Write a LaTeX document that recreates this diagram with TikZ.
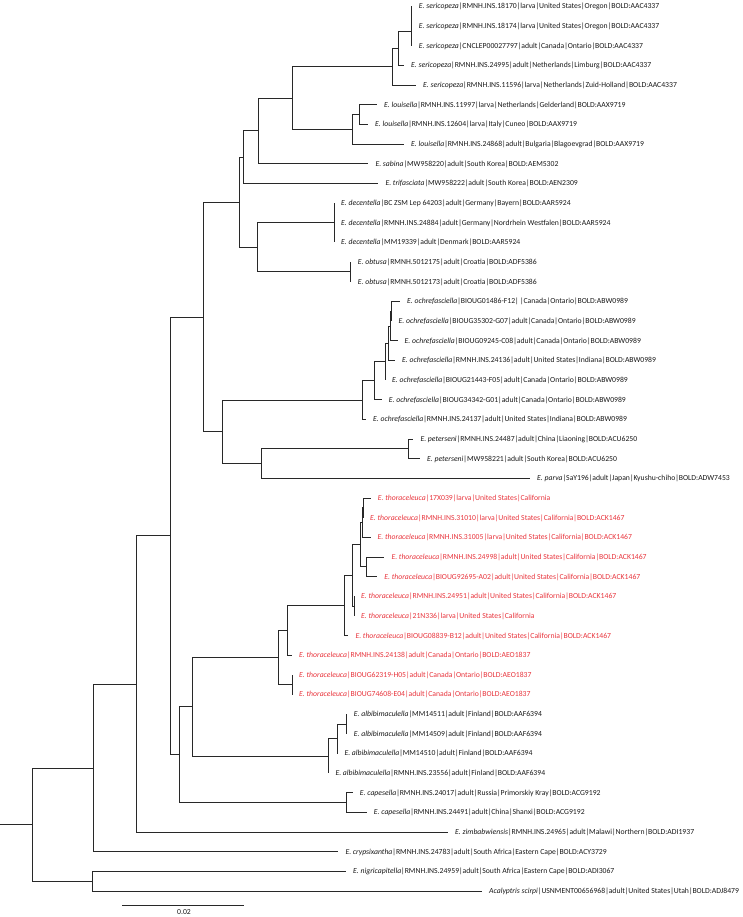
\documentclass[tikz,border=0pt]{standalone}
\usepackage{fontspec}
\setmainfont{Carlito}
\usetikzlibrary{calc}
\definecolor{thred}{RGB}{232,52,60}
\definecolor{brc}{RGB}{40,40,40}
\tikzset{
  br/.style={draw=brc,line width=0.9pt},
  lbl/.style={anchor=mid west,inner sep=0pt,xshift=7pt,font=\fontsize{7.7}{9}\selectfont,text=black!90},
  redlbl/.style={lbl,text=thred},
}
\newcommand\tipleaf[5]{\coordinate (#1) at (#2,#3);\node[#4] (L#1) at (#1) {#5};}
\begin{document}
\begin{tikzpicture}[x=1pt,y=-1pt]
\useasboundingbox (0,0) rectangle (743,917);
% leaves
\tipleaf{t1}{411.7}{6.5}{lbl}{\textit{E. sericopeza}|RMNH.INS.18170|larva|United States|Oregon|BOLD:AAC4337}
\tipleaf{t2}{411.7}{26.16}{lbl}{\textit{E. sericopeza}|RMNH.INS.18174|larva|United States|Oregon|BOLD:AAC4337}
\tipleaf{t3}{411.7}{45.82}{lbl}{\textit{E. sericopeza}|CNCLEP00027797|adult|Canada|Ontario|BOLD:AAC4337}
\tipleaf{t4}{404}{65.48}{lbl}{\textit{E. sericopeza}|RMNH.INS.24995|adult|Netherlands|Limburg|BOLD:AAC4337}
\tipleaf{t5}{416}{85.14}{lbl}{\textit{E. sericopeza}|RMNH.INS.11596|larva|Netherlands|Zuid-Holland|BOLD:AAC4337}
\tipleaf{t6}{377}{104.8}{lbl}{\textit{E. louisella}|RMNH.INS.11997|larva|Netherlands|Gelderland|BOLD:AAX9719}
\tipleaf{t7}{368}{124.46}{lbl}{\textit{E. louisella}|RMNH.INS.12604|larva|Italy|Cuneo|BOLD:AAX9719}
\tipleaf{t8}{404}{144.12}{lbl}{\textit{E. louisella}|RMNH.INS.24868|adult|Bulgaria|Blagoevgrad|BOLD:AAX9719}
\tipleaf{t9}{368.3}{163.78}{lbl}{\textit{E. sabina}|MW958220|adult|South Korea|BOLD:AEM5302}
\tipleaf{t10}{378.3}{183.44}{lbl}{\textit{E. trifasciata}|MW958222|adult|South Korea|BOLD:AEN2309}
\tipleaf{t11}{334}{203.1}{lbl}{\textit{E. decentella}|BC ZSM Lep 64203|adult|Germany|Bayern|BOLD:AAR5924}
\tipleaf{t12}{334}{222.76}{lbl}{\textit{E. decentella}|RMNH.INS.24884|adult|Germany|Nordrhein Westfalen|BOLD:AAR5924}
\tipleaf{t13}{334}{242.42}{lbl}{\textit{E. decentella}|MM19339|adult|Denmark|BOLD:AAR5924}
\tipleaf{t14}{350.7}{262.08}{lbl}{\textit{E. obtusa}|RMNH.5012175|adult|Croatia|BOLD:ADF5386}
\tipleaf{t15}{350.7}{281.74}{lbl}{\textit{E. obtusa}|RMNH.5012173|adult|Croatia|BOLD:ADF5386}
\tipleaf{t16}{400}{301.4}{lbl}{\textit{E. ochrefasciella}|BIOUG01486-F12|\,|Canada|Ontario|BOLD:ABW0989}
\tipleaf{t17}{391.5}{321.06}{lbl}{\textit{E. ochrefasciella}|BIOUG35302-G07|adult|Canada|Ontario|BOLD:ABW0989}
\tipleaf{t18}{397.5}{340.72}{lbl}{\textit{E. ochrefasciella}|BIOUG09245-C08|adult|Canada|Ontario|BOLD:ABW0989}
\tipleaf{t19}{395}{360.38}{lbl}{\textit{E. ochrefasciella}|RMNH.INS.24136|adult|United States|Indiana|BOLD:ABW0989}
\tipleaf{t20}{385}{380.04}{lbl}{\textit{E. ochrefasciella}|BIOUG21443-F05|adult|Canada|Ontario|BOLD:ABW0989}
\tipleaf{t21}{381.7}{399.7}{lbl}{\textit{E. ochrefasciella}|BIOUG34342-G01|adult|Canada|Ontario|BOLD:ABW0989}
\tipleaf{t22}{366}{419.36}{lbl}{\textit{E. ochrefasciella}|RMNH.INS.24137|adult|United States|Indiana|BOLD:ABW0989}
\tipleaf{t23}{413.3}{439.02}{lbl}{\textit{E. peterseni}|RMNH.INS.24487|adult|China|Liaoning|BOLD:ACU6250}
\tipleaf{t24}{420}{458.68}{lbl}{\textit{E. peterseni}|MW958221|adult|South Korea|BOLD:ACU6250}
\tipleaf{t25}{530}{478.34}{lbl}{\textit{E. parva}|SaY196|adult|Japan|Kyushu-chiho|BOLD:ADW7453}
\tipleaf{t26}{370.7}{498.0}{redlbl}{\textit{E. thoraceleuca}|17X039|larva|United States|California}
\tipleaf{t27}{363}{517.66}{redlbl}{\textit{E. thoraceleuca}|RMNH.INS.31010|larva|United States|California|BOLD:ACK1467}
\tipleaf{t28}{370.5}{537.32}{redlbl}{\textit{E. thoraceleuca}|RMNH.INS.31005|larva|United States|California|BOLD:ACK1467}
\tipleaf{t29}{384.3}{556.98}{redlbl}{\textit{E. thoraceleuca}|RMNH.INS.24998|adult|United States|California|BOLD:ACK1467}
\tipleaf{t30}{377.2}{576.64}{redlbl}{\textit{E. thoraceleuca}|BIOUG92695-A02|adult|United States|California|BOLD:ACK1467}
\tipleaf{t31}{354}{596.3}{redlbl}{\textit{E. thoraceleuca}|RMNH.INS.24951|adult|United States|California|BOLD:ACK1467}
\tipleaf{t32}{354}{615.96}{redlbl}{\textit{E. thoraceleuca}|21N336|larva|United States|California}
\tipleaf{t33}{348.3}{635.62}{redlbl}{\textit{E. thoraceleuca}|BIOUG08839-B12|adult|United States|California|BOLD:ACK1467}
\tipleaf{t34}{292}{655.28}{redlbl}{\textit{E. thoraceleuca}|RMNH.INS.24138|adult|Canada|Ontario|BOLD:AEO1837}
\tipleaf{t35}{292}{674.94}{redlbl}{\textit{E. thoraceleuca}|BIOUG62319-H05|adult|Canada|Ontario|BOLD:AEO1837}
\tipleaf{t36}{292}{694.6}{redlbl}{\textit{E. thoraceleuca}|BIOUG74608-E04|adult|Canada|Ontario|BOLD:AEO1837}
\tipleaf{t37}{346.7}{714.26}{lbl}{\textit{E. albibimaculella}|MM14511|adult|Finland|BOLD:AAF6394}
\tipleaf{t38}{346.7}{733.92}{lbl}{\textit{E. albibimaculella}|MM14509|adult|Finland|BOLD:AAF6394}
\tipleaf{t39}{337.3}{753.58}{lbl}{\textit{E. albibimaculella}|MM14510|adult|Finland|BOLD:AAF6394}
\tipleaf{t40}{328.3}{773.24}{lbl}{\textit{E. albibimaculella}|RMNH.INS.23556|adult|Finland|BOLD:AAF6394}
\tipleaf{t41}{352.7}{792.9}{lbl}{\textit{E. capesella}|RMNH.INS.24017|adult|Russia|Primorskiy Kray|BOLD:ACG9192}
\tipleaf{t42}{366.7}{812.56}{lbl}{\textit{E. capesella}|RMNH.INS.24491|adult|China|Shanxi|BOLD:ACG9192}
\tipleaf{t43}{448}{832.22}{lbl}{\textit{E. zimbabwiensis}|RMNH.INS.24965|adult|Malawi|Northern|BOLD:ADI1937}
\tipleaf{t44}{338.3}{851.88}{lbl}{\textit{E. crypsixantha}|RMNH.INS.24783|adult|South Africa|Eastern Cape|BOLD:ACY3729}
\tipleaf{t45}{346}{871.54}{lbl}{\textit{E. nigricapitella}|RMNH.INS.24959|adult|South Africa|Eastern Cape|BOLD:ADI3067}
\tipleaf{t46}{482}{891.2}{lbl}{\textit{Acalyptris scirpi}|USNMENT00656968|adult|United States|Utah|BOLD:ADJ8479}
% internal nodes
\coordinate (s12) at (411.7,16.33);
\coordinate (s123) at (411.7,31.08);
\coordinate (s1234) at (398.3,48.28);
\coordinate (sroot) at (392.3,66.71);
\coordinate (l67) at (359,114.63);
\coordinate (lroot) at (352.3,129.38);
\coordinate (nsl) at (292.3,98.05);
\coordinate (nsab) at (258.7,130.92);
\coordinate (ntri) at (243.3,157.18);
\coordinate (dec) at (334,222.76);
\coordinate (obt) at (350.7,271.91);
\coordinate (ndo) at (257.3,247.34);
\coordinate (nup) at (239.3,202.26);
\coordinate (o1) at (391.5,311.23);
\coordinate (o2) at (390,325.98);
\coordinate (o3) at (388.3,343.18);
\coordinate (o4) at (385,361.61);
\coordinate (o5) at (374.3,380.66);
\coordinate (o6) at (362.3,400.01);
\coordinate (pet) at (408.3,448.85);
\coordinate (npp) at (261,463.6);
\coordinate (nop) at (222.7,431.8);
\coordinate (nmid) at (203.3,317.03);
\coordinate (tg) at (363,507.83);
\coordinate (te) at (362,522.58);
\coordinate (tf) at (366.7,566.81);
\coordinate (tc) at (360,544.7);
\coordinate (td) at (354,606.13);
\coordinate (tb) at (352.7,575.42);
\coordinate (ta) at (344.5,605.52);
\coordinate (tn34) at (287.3,630.4);
\coordinate (tn3536) at (292,684.77);
\coordinate (tr) at (278,657.59);
\coordinate (a3738) at (346.7,724.09);
\coordinate (a39) at (337.3,738.84);
\coordinate (ar) at (328.3,756.04);
\coordinate (nta) at (192,706.82);
\coordinate (cap) at (346.7,802.73);
\coordinate (ntac) at (179.3,754.78);
\coordinate (nbig) at (170,535.9);
\coordinate (nzim) at (136.7,684.06);
\coordinate (ncry) at (93.3,767.97);
\coordinate (nna) at (92.7,881.37);
\coordinate (root) at (32.7,824.67);
\coordinate (r0) at (0,824.67);
% branches
\draw[br] (r0) -- (root);
\foreach \p/\c in {root/ncry,root/nna,ncry/nzim,ncry/t44,nna/t45,nna/t46,
  nzim/nbig,nzim/t43,nbig/nmid,nbig/ntac,nmid/nup,nmid/nop,
  nup/ntri,nup/ndo,ntri/nsab,ntri/t10,nsab/nsl,nsab/t9,nsl/sroot,nsl/lroot,
  sroot/s1234,sroot/t5,s1234/s123,s1234/t4,s123/s12,s123/t3,s12/t1,s12/t2,
  lroot/l67,lroot/t8,l67/t6,l67/t7,ndo/dec,ndo/obt,dec/t11,dec/t12,dec/t13,
  obt/t14,obt/t15,nop/o6,nop/npp,o6/o5,o6/t22,o5/o4,o5/t21,o4/o3,o4/t20,
  o3/o2,o3/t19,o2/o1,o2/t18,o1/t16,o1/t17,npp/pet,npp/t25,pet/t23,pet/t24,
  ntac/nta,ntac/cap,nta/tr,nta/ar,tr/tn34,tr/tn3536,tn34/ta,tn34/t34,
  ta/tb,ta/t33,tb/tc,tb/td,tc/te,tc/tf,te/tg,te/t28,tg/t26,tg/t27,
  tf/t29,tf/t30,td/t31,td/t32,tn3536/t35,tn3536/t36,
  ar/a39,ar/t40,a39/a3738,a39/t39,a3738/t37,a3738/t38,cap/t41,cap/t42}
  \draw[br] (\p) |- (\c);
% scale bar
\coordinate (sb1) at (122.3,905.3);
\coordinate (sb2) at (244,905.3);
\draw[br] (sb1) -- (sb2);
\node[inner sep=0pt,font=\fontsize{7.7}{9}\selectfont,text=black!90] (sbl) at (184,912) {0.02};
\end{tikzpicture}
\end{document}
